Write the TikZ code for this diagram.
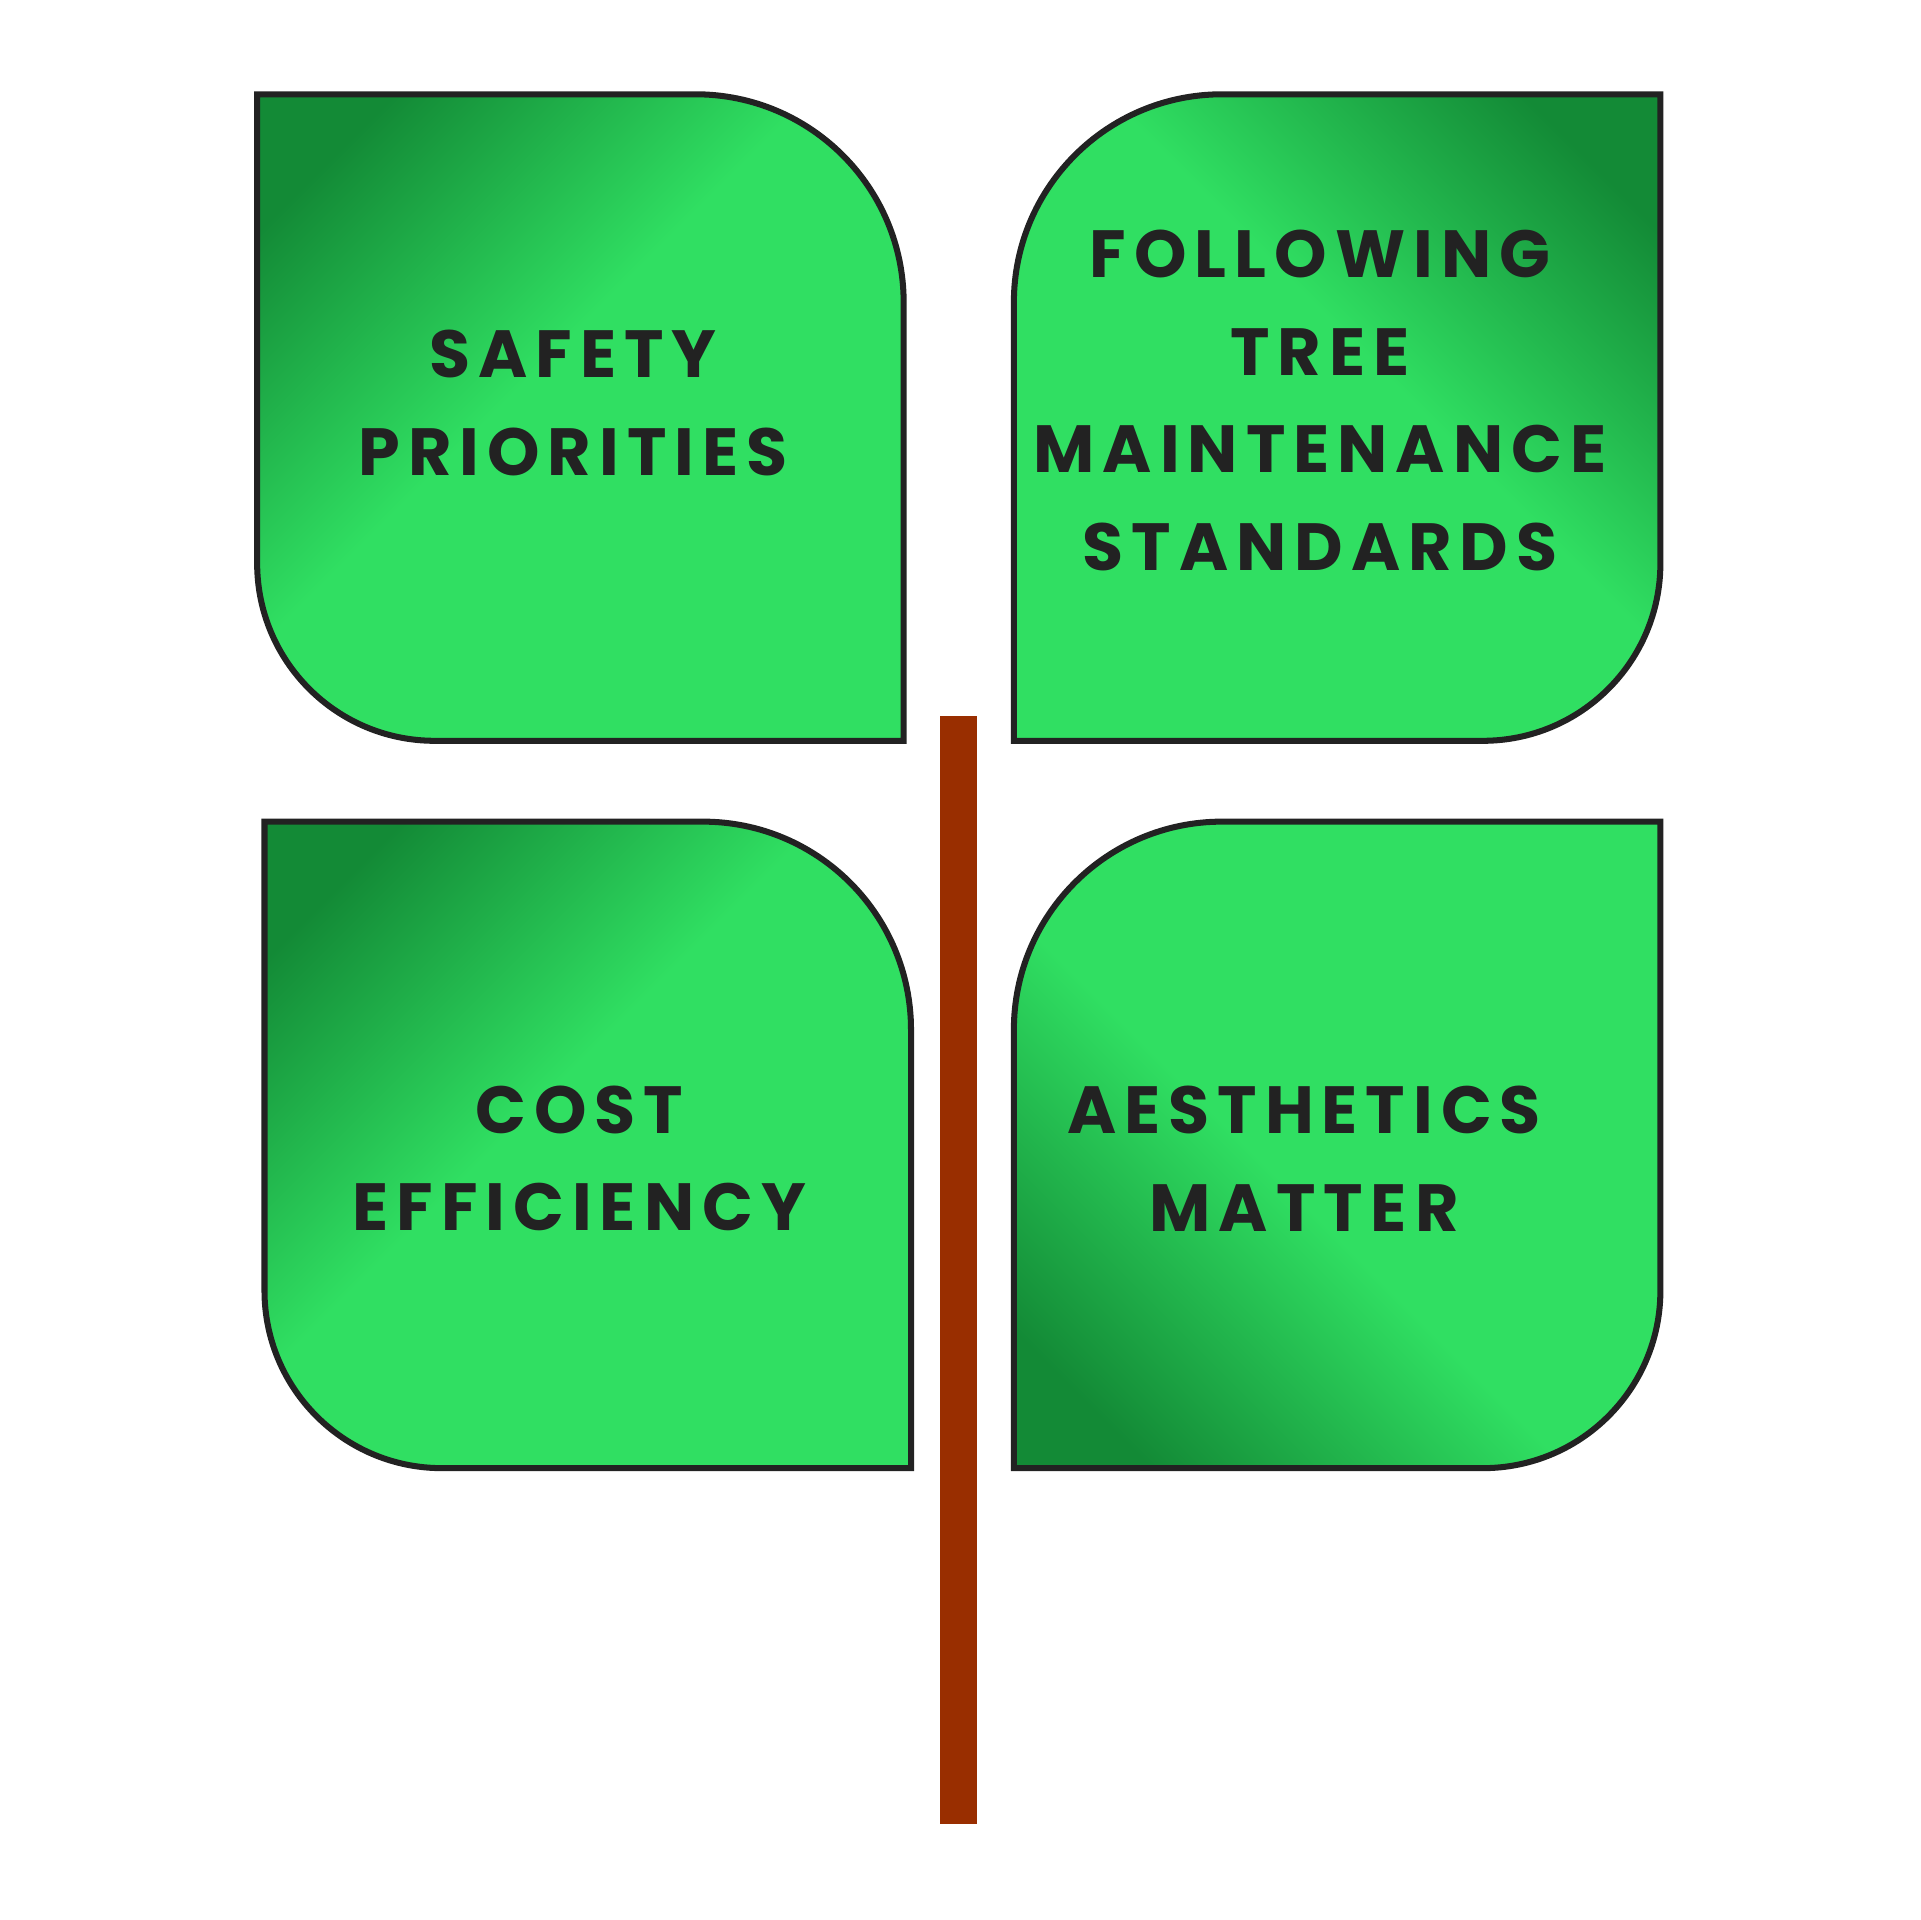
\documentclass[tikz,border=0pt]{standalone}
\usepackage{fontspec}
\setmainfont{Poppins}[BoldFont={* Bold}]
\newfontfamily\leaffont{Poppins}[UprightFont={* Bold},LetterSpace=12]
\definecolor{leafgreen}{HTML}{30DF62}
\definecolor{leafdark}{HTML}{138A36}
\definecolor{inkgray}{HTML}{222222}
\definecolor{stembrown}{HTML}{992E00}
\pgfdeclarehorizontalshading{leafcorner}{100bp}{color(0bp)=(leafdark); color(22bp)=(leafdark); color(45bp)=(leafgreen); color(100bp)=(leafgreen)}
\tikzset{leaf/.style={fill=leafgreen, draw=inkgray, line width=1.4pt,
  path picture={\shade[shading=leafcorner, shading angle=#1]
    (path picture bounding box.south west) rectangle (path picture bounding box.north east);}}}
\tikzset{leaftext/.style={align=center, text=inkgray, font=\leaffont\fontsize{15.5}{22.7}\selectfont}}
\newcommand\leafleft[2]{(#1,#2) -- ++(358,0) arc[start angle=90,end angle=0,radius=170] -- ++(0,-358) -- ++(-383,0) arc[start angle=270,end angle=180,radius=145] -- cycle}
\newcommand\leafright[2]{(#1,#2) -- ++(-358,0) arc[start angle=90,end angle=180,radius=170] -- ++(0,-358) -- ++(383,0) arc[start angle=270,end angle=360,radius=145] -- cycle}
\begin{document}
\begin{tikzpicture}[x=0.01cm,y=0.01cm]
  \useasboundingbox (0,0) rectangle (1568,1568);
  % stem
  \fill[stembrown] (768,78) rectangle (798,983);
  % leaves
  \path[leaf=-45] \leafleft{210}{1491};
  \path[leaf=-135] \leafright{1356}{1491};
  \path[leaf=-45] \leafleft{216}{897};
  \path[leaf=-315] \leafright{1356}{897};
  % labels
  \node[leaftext] (safety) at (468,1239) {SAFETY\\PRIORITIES};
  \node[leaftext] (standards) at (1078,1241) {FOLLOWING\\TREE\\MAINTENANCE\\STANDARDS};
  \node[leaftext] (cost) at (473,622) {COST\\EFFICIENCY};
  \node[leaftext] (aesthetics) at (1065,622) {AESTHETICS\\MATTER};
\end{tikzpicture}
\end{document}
